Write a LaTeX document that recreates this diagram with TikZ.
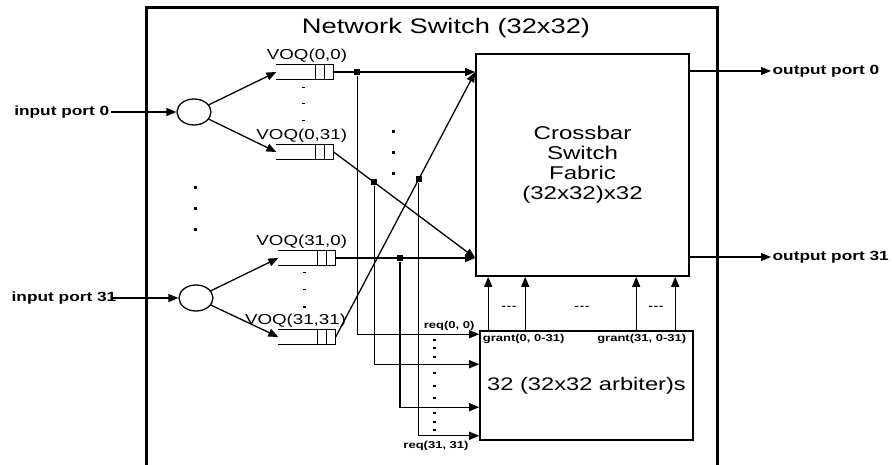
\documentclass[tikz,border=0pt]{standalone}
\usepackage{fontspec}
\setmainfont{Liberation Sans}[FakeStretch=1.3]
\usetikzlibrary{arrows.meta,shapes.geometric,calc}

\begin{document}
\begin{tikzpicture}[x=1pt, y=-1pt, line width=1.3pt,
  arr/.style={-{Triangle[length=10pt,width=8pt]}},
  box/.style={draw, line width=1.6pt, inner sep=0pt},
  queue/.style={minimum width=56pt, minimum height=14pt, inner sep=0pt},
  demux/.style={draw, ellipse, minimum width=34pt, minimum height=26pt, inner sep=0pt},
  jn/.style={fill, minimum size=6pt, inner sep=0pt},
  voqtxt/.style={font=\fontsize{14.4}{16}\selectfont, inner sep=1pt, anchor=south east},
  porttxt/.style={font=\fontsize{13.3}{15}\selectfont\bfseries, inner sep=1pt},
  smalltxt/.style={font=\fontsize{10}{12}\selectfont\bfseries, inner sep=1pt}]

  \useasboundingbox (0,0) rectangle (892,465);

  % Switch enclosure (runs off the bottom of the page)
  \draw[line width=3pt] (146,465) -- (146,8) -- (717,8) -- (717,465);
  \node[font=\fontsize{21}{25}\selectfont] (title) at (446,28) {Network Switch (32x32)};

  % Input ports and demultiplexers
  \node[porttxt, anchor=east] (in0) at (111,112) {input port 0};
  \node[porttxt, anchor=east] (in31) at (118,298) {input port 31};
  \node[demux] (dm0) at (194,112) {};
  \node[demux] (dm31) at (196,298) {};
  \draw[arr] (in0.east) -- (dm0.west);
  \draw[arr] ([xshift=-7pt]in31.east) -- (dm31.west);

  % ellipsis between the two input ports
  \foreach \y in {188,209,230}
    \fill (193.5,\y-1.5) rectangle (196.5,\y+1.5);

  % Virtual output queues
  \node[queue] (q00) at (305,72) {};
  \node[queue] (q031) at (305,152) {};
  \node[queue] (q310) at (307,258) {};
  \node[queue] (q3131) at (307,337) {};
  \foreach \q in {q00,q031,q310,q3131} {
    \draw (\q.north west) -- (\q.north east) -- (\q.south east) -- (\q.south west);
    \draw ([xshift=-18pt]\q.north east) -- ([xshift=-18pt]\q.south east)
          ([xshift=-9pt]\q.north east) -- ([xshift=-9pt]\q.south east);
  }
  \node[voqtxt] at ([xshift=15pt]q00.north east) {VOQ(0,0)};
  \node[voqtxt] at ([xshift=15pt]q031.north east) {VOQ(0,31)};
  \node[voqtxt] at ([xshift=13pt]q310.north east) {VOQ(31,0)};
  \node[voqtxt] at ([xshift=12pt]q3131.north east) {VOQ(31,31)};
  \foreach \y in {87,103,120}
    \fill (301.5,\y) rectangle (304.5,\y+1.5);
  \foreach \y in {272,289,306}
    \fill (302.5,\y) rectangle (305.5,\y+1.5);

  \draw[arr] (dm0) -- (q00.west);
  \draw[arr] (dm0) -- (q031.west);
  \draw[arr] (dm31) -- (q310.west);
  \draw[arr] (dm31) -- (q3131.west);

  % Crossbar and arbiters
  \node[box, minimum width=213pt, minimum height=222pt, align=center,
        font=\fontsize{18.5}{20}\selectfont] (xbar) at (582.5,165)
    {Crossbar\\Switch\\Fabric\\(32x32)x32};
  \node[box, minimum width=213pt, minimum height=109pt,
        font=\fontsize{18.2}{20}\selectfont] (arb) at (586.5,385.5)
    {32 (32x32 arbiter)s};

  % Queue outputs into the crossbar
  \coordinate (x0) at (xbar.west |- q00.east);
  \coordinate (x31) at (xbar.west |- q310.east);
  \draw[arr] (q00.east) -- (x0);
  \draw[arr] (q310.east) -- (x31);
  \draw[arr] (q031.east) -- (x31);
  \draw[arr] (q3131.east) -- (x0);
  \foreach \y in {132,153,174}
    \fill (391.5,\y-1.5) rectangle (394.5,\y+1.5);

  % Request taps
  \node[jn] (j00) at ($(q00.east)!0.168!(x0)$) {};
  \node[jn] (j031) at ($(q031.east)!0.287!(x31)$) {};
  \node[jn] (j310) at ($(q310.east)!0.461!(x31)$) {};
  \node[jn] (j3131) at ($(q3131.east)!0.596!(x0)$) {};
  \draw[arr] (j00) |- ([yshift=-4pt]arb.north west);
  \draw[arr] (j031) |- ([yshift=-34pt]arb.north west);
  \draw[arr] (j310) |- ([yshift=-77pt]arb.north west);
  \draw[arr] (j3131) |- ([yshift=5pt]arb.south west);
  \node[smalltxt, anchor=east] (req0) at (476,326) {req(0, 0)};
  \node[smalltxt] (req31) at (436,446) {req(31, 31)};
  \foreach \y in {340,348,357,373,386,398,413,422,430}
    \fill (432.5,\y-0.75) rectangle (435.5,\y+0.75);

  % Grants up to the crossbar
  \foreach \dx in {9,46,157,196}
    \draw[arr] ([xshift=\dx pt]arb.north west) -- ([xshift=\dx pt]arb.north west |- xbar.south);
  \node[smalltxt] at (509,308) {-\kern1pt-\kern1pt-};
  \node[smalltxt] at (582,308) {-\kern1pt-\kern1pt-};
  \node[smalltxt] at (656,308) {-\kern1pt-\kern1pt-};
  \node[smalltxt, anchor=north west] at ([xshift=2pt,yshift=-2pt]arb.north west) {grant(0, 0-31)};
  \node[smalltxt, anchor=north east] at ([xshift=-6pt,yshift=-2pt]arb.north east) {grant(31, 0-31)};

  % Output ports
  \node[porttxt, anchor=west] (out0) at (771,71) {output port 0};
  \node[porttxt, anchor=west] (out31) at (771,257) {output port 31};
  \draw[arr] (xbar.east |- out0) -- (out0);
  \draw[arr] (xbar.east |- out31) -- (out31);

\end{tikzpicture}
\end{document}
